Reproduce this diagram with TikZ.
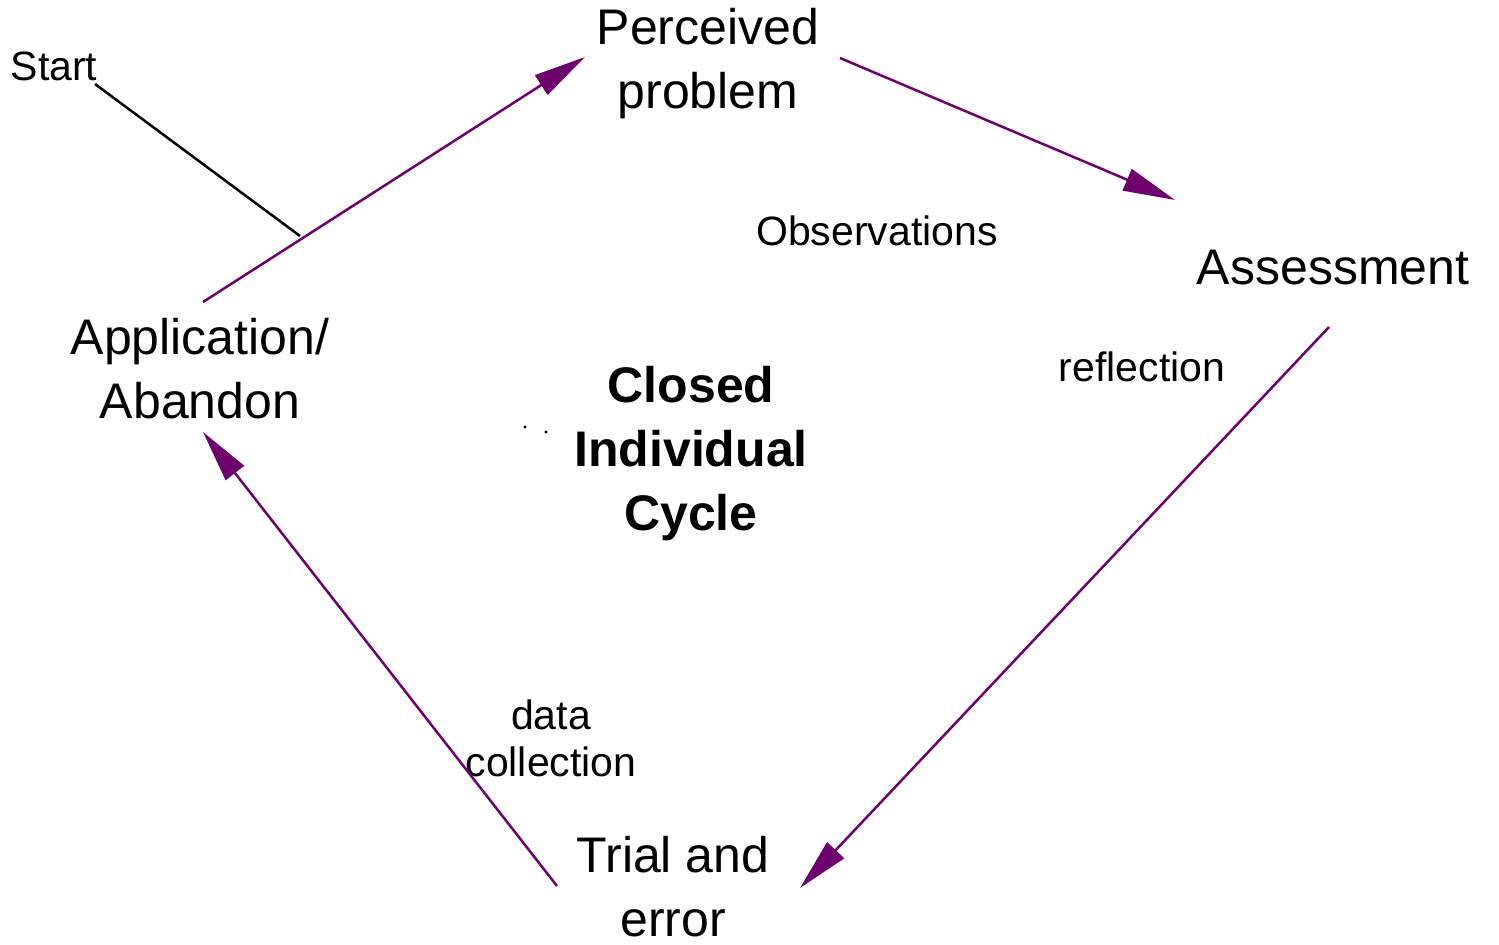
\documentclass[tikz,border=0pt]{standalone}
\usepackage{fontspec}
\setmainfont{Liberation Sans}
\usetikzlibrary{arrows.meta}
\definecolor{cyc}{HTML}{6E006E}
\tikzset{
  big/.style={align=center,inner sep=0pt,font=\fontsize{25pt}{32pt}\selectfont},
  bigb/.style={align=center,inner sep=0pt,font=\fontsize{25pt}{32pt}\selectfont\bfseries},
  small/.style={align=center,inner sep=0pt,font=\fontsize{20.5pt}{23.5pt}\selectfont},
  cycarrow/.style={draw=cyc,line width=1.25pt,-{Triangle[length=26pt,width=11.5pt]}},
}
\begin{document}
\begin{tikzpicture}[x=0.5pt,y=-0.5pt]
\useasboundingbox (0,0) rectangle (1499,944);
% text nodes
\node[big] (perc) at (708,64) {Perceived\\problem};
\node[big] (assess) at (1333,268) {Assessment};
\node[big] (app) at (200,369) {Application/\\Abandon};
\node[big] (trial) at (673,887) {Trial and\\error};
\node[bigb] (closed) at (691,454) {Closed\\Individual\\Cycle};
\node[small] (obs) at (877,231) {Observations};
\node[small] (refl) at (1142,367) {reflection};
\node[small] (data) at (551,738) {data\\collection};
\node[small] (start) at (54,66) {Start};
% arrow end points
\coordinate (a1s) at (203,302);
\coordinate (a1e) at (585,57);
\coordinate (a2s) at (840,58);
\coordinate (a2e) at (1175,200);
\coordinate (a3s) at (1329,327);
\coordinate (a3e) at (800,888);
\coordinate (a4s) at (557,886);
\coordinate (a4e) at (203,432);
\coordinate (st1) at (95,84);
\coordinate (st2) at (300,236);
% connectors
\draw[line width=1.25pt,black] (st1) -- (st2);
\draw[cycarrow] (a1s) -- (a1e);
\draw[cycarrow] (a2s) -- (a2e);
\draw[cycarrow] (a3s) -- (a3e);
\draw[cycarrow] (a4s) -- (a4e);
% small dots
\fill (525,427) circle (1.6);
\fill (546,432) circle (1.6);
\end{tikzpicture}
\end{document}
